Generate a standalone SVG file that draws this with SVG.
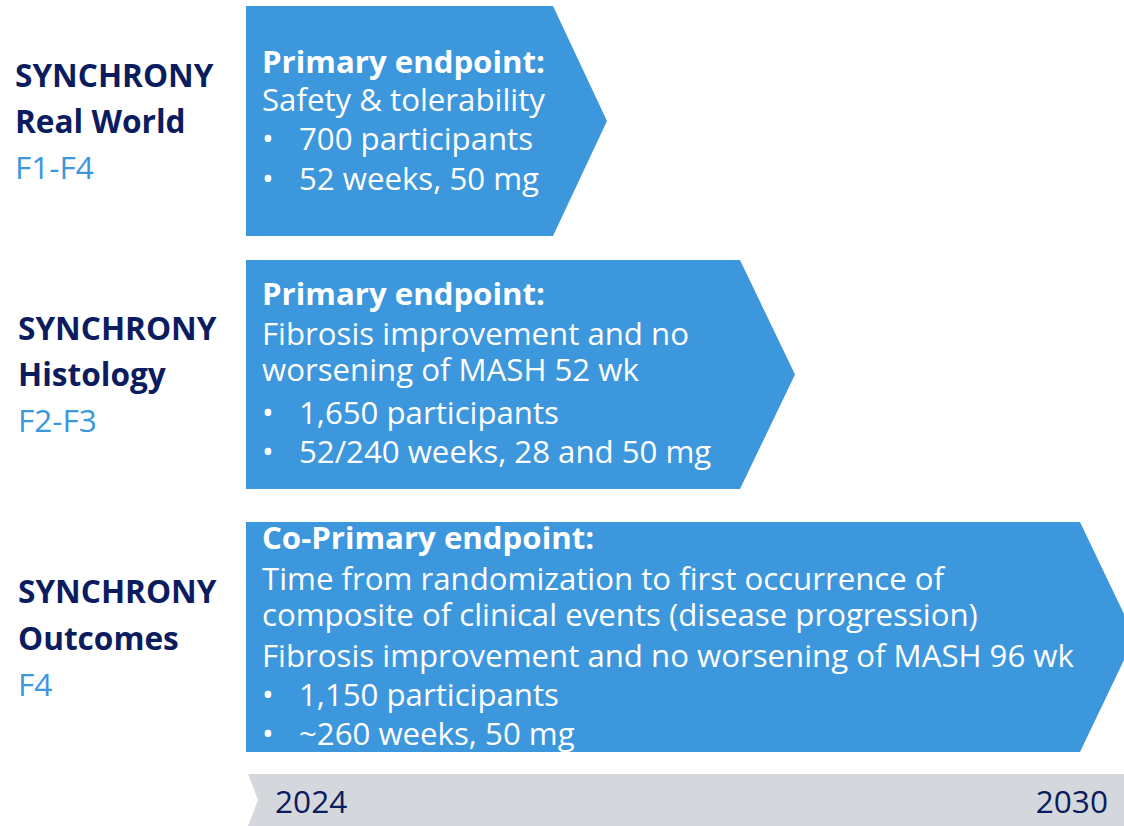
<svg xmlns="http://www.w3.org/2000/svg" width="1124" height="826" viewBox="0 0 1124 826">
<style>
.box{fill:#3D97DD;}
.bar{fill:#D4D7DC;}
.t{font-family:"Open Sans","Noto Sans","Liberation Sans",sans-serif;font-size:31.2px;}
.l{font-size:31.6px;}
.name{font-weight:bold;fill:#0B1C5F;}
.stage{fill:#3C97DD;}
.w{fill:#FFFFFF;}
.b{font-weight:bold;}
.yr{fill:#0B1C5F;}
</style>
<rect width="1124" height="826" fill="#FFFFFF"/>
<g id="timeline">
<polygon class="bar" points="248,774 1124,774 1124,826 248,826 258,800"/>
<text class="t l yr" x="275" y="813">2024</text>
<text class="t l yr" x="1108" y="813" text-anchor="end">2030</text>
</g>
<g id="real-world">
<text class="t l name" x="15" y="87">SYNCHRONY</text>
<text class="t l name" x="15" y="133">Real World</text>
<text class="t l stage" x="15" y="179">F1-F4</text>
<polygon class="box" points="246,6 553,6 607,121 553,236 246,236"/>
<text class="t w b" x="262" y="73">Primary endpoint:</text>
<text class="t w" x="262" y="111">Safety &amp; tolerability</text>
<text class="t w" x="262" y="150">•</text>
<text class="t w" x="299" y="150">700 participants</text>
<text class="t w" x="262" y="190">•</text>
<text class="t w" x="299" y="190">52 weeks, 50 mg</text>
</g>
<g id="histology">
<text class="t l name" x="18" y="340">SYNCHRONY</text>
<text class="t l name" x="18" y="386">Histology</text>
<text class="t l stage" x="18" y="432">F2-F3</text>
<polygon class="box" points="246,260 740,260 795,374.5 740,489 246,489"/>
<text class="t w b" x="262" y="305">Primary endpoint:</text>
<text class="t w" x="262" y="345">Fibrosis improvement and no</text>
<text class="t w" x="262" y="381">worsening of MASH 52 wk</text>
<text class="t w" x="262" y="424">•</text>
<text class="t w" x="299" y="424">1,650 participants</text>
<text class="t w" x="262" y="463">•</text>
<text class="t w" x="299" y="463">52/240 weeks, 28 and 50 mg</text>
</g>
<g id="outcomes">
<text class="t l name" x="18" y="603">SYNCHRONY</text>
<text class="t l name" x="18" y="650">Outcomes</text>
<text class="t l stage" x="18" y="696">F4</text>
<polygon class="box" points="246,522 1080,522 1135,637 1080,752 246,752"/>
<text class="t w b" x="262" y="549">Co-Primary endpoint:</text>
<text class="t w" x="262" y="590">Time from randomization to first occurrence of</text>
<text class="t w" x="262" y="626">composite of clinical events (disease progression)</text>
<text class="t w" x="262" y="667">Fibrosis improvement and no worsening of MASH 96 wk</text>
<text class="t w" x="262" y="706">•</text>
<text class="t w" x="299" y="706">1,150 participants</text>
<text class="t w" x="262" y="745">•</text>
<text class="t w" x="299" y="745">~260 weeks, 50 mg</text>
</g>
<g id="connectors"/>
</svg>
